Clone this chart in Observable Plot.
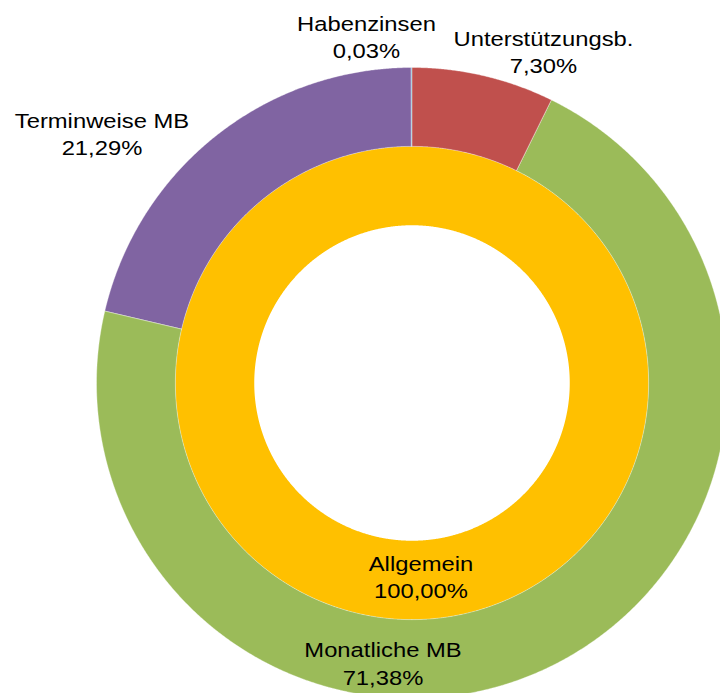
<!DOCTYPE html>
<html>
<head>
<meta charset="utf-8">
<script src="https://cdn.jsdelivr.net/npm/d3@7"></script>
<script src="https://cdn.jsdelivr.net/npm/@observablehq/plot@0.6"></script>
<style>
  html, body { margin: 0; padding: 0; background: #fff; overflow: hidden; }
  svg { display: block; }
</style>
</head>
<body>
<div id="chart"></div>
<script>
// ---- Data ----
const outerCategories = ["Unterstützungsb.", "Monatliche MB", "Terminweise MB", "Habenzinsen"];
const outerValues = [7.30, 71.38, 21.29, 0.03];
const innerCategories = ["Allgemein"];
const innerValues = [100.00];

// ---- Styles / layout ----
const colorDomain = [...outerCategories, ...innerCategories];
const colorRange = ["#C0504D", "#9BBB59", "#8064A2", "#4BACC6", "#FFC000"];
const rings = {outer: [0.75, 1.0], inner: [0.5, 0.75]};
// label placement (polar: degrees clockwise from top, radius in ring units)
const labelLayout = {
  "Habenzinsen": [352.47, 1.1126],
  "Unterstützungsb.": [21.47, 1.134],
  "Terminweise MB": [308.95, 1.2655],
  "Allgemein": [177.47, 0.609],
  "Monatliche MB": [186.05, 0.8877]
};
const textScaleX = 1.22;

const fmt = v => v.toFixed(2).replace(".", ",") + "%";

function ringPoints(cats, vals, [r0, r1]) {
  const pie = d3.pie().sort(null).startAngle(0).endAngle(2 * Math.PI)(vals);
  const pts = [];
  pie.forEach((p, i) => {
    const n = Math.max(2, Math.ceil((p.endAngle - p.startAngle) / (Math.PI / 720)) + 1);
    for (let k = 0; k < n; k++) {
      const a = p.startAngle + (p.endAngle - p.startAngle) * k / (n - 1);
      pts.push({
        cat: cats[i],
        xo: r1 * Math.sin(a), yo: r1 * Math.cos(a),
        xi: r0 * Math.sin(a), yi: r0 * Math.cos(a)
      });
    }
  });
  return pts;
}

const innerSlices = ringPoints(innerCategories, innerValues, rings.inner);
const outerSlices = ringPoints(outerCategories, outerValues, rings.outer);

const labels = [...outerCategories.map((c, i) => ({cat: c, v: outerValues[i]})),
                ...innerCategories.map((c, i) => ({cat: c, v: innerValues[i]}))]
  .map(d => {
    const [deg, r] = labelLayout[d.cat];
    const a = deg * Math.PI / 180;
    return {text: d.cat + "\n" + fmt(d.v), x: r * Math.sin(a), y: r * Math.cos(a)};
  });

const W = 720, H = 693, cx = 412, cy = 383, R = 315.5;

const chart = Plot.plot({
  width: W,
  height: H,
  margin: 0,
  x: {domain: [(0 - cx) / R, (W - cx) / R], axis: null},
  y: {domain: [(cy - H) / R, cy / R], axis: null},
  color: {domain: colorDomain, range: colorRange},
  style: {fontFamily: "'Liberation Sans', Arial, sans-serif", background: "#fff"},
  marks: [
    Plot.area(innerSlices, {
      x1: "xo", y1: "yo", x2: "xi", y2: "yi",
      z: "cat", fill: "cat", clip: true
    }),
    Plot.area(outerSlices, {
      x1: "xo", y1: "yo", x2: "xi", y2: "yi",
      z: "cat", fill: "cat",
      stroke: "white", strokeWidth: 0.6, strokeOpacity: 0.6,
      clip: true
    }),
    Plot.text(labels, {
      x: "x", y: "y", text: "text",
      fontSize: 19.5, lineHeight: 1.41, fill: "#000",
      className: "lbl"
    })
  ]
});

// horizontally widen the label glyphs to match the reference's typography
d3.select(chart).selectAll(".lbl text").attr("transform", function () {
  return (this.getAttribute("transform") || "") + ` scale(${textScaleX},1)`;
});

document.getElementById("chart").appendChild(chart);
</script>
</body>
</html>
